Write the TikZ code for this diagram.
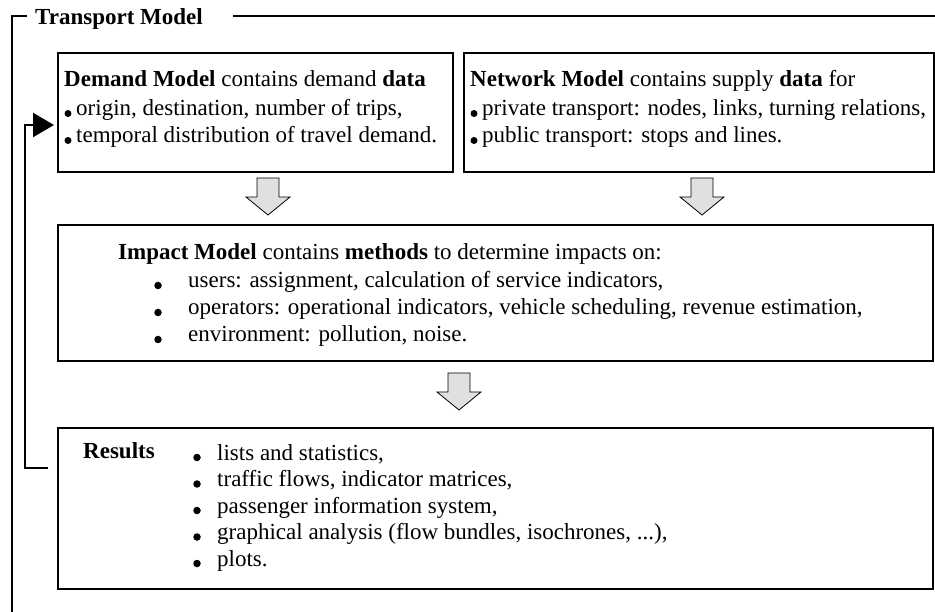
\documentclass[tikz,border=0pt]{standalone}
\usepackage{fontspec}
\setmainfont{Liberation Serif}
\usetikzlibrary{arrows.meta}
\tikzset{
  box/.style={draw, line width=1.8pt, inner sep=0pt, anchor=north west},
  txt/.style={anchor=base west, inner sep=0pt, font=\fontsize{23}{27}\selectfont},
  bul/.style={circle, fill, draw=none, inner sep=0pt, minimum size=7pt},
  bigbul/.style={circle, fill, draw=none, inner sep=0pt, minimum size=7.5pt},
  blockarrow/.style={fill=black!12, draw=black, line width=0.8pt, line join=miter},
  frame/.style={line width=2.2pt, line join=miter},
  fbline/.style={line width=2.2pt, line join=miter, -{Triangle[length=21pt,width=24pt]}, shorten >=3pt},
}
\newcommand{\mkblockarrow}[1]{%
  \draw[blockarrow] (#1) ++(-11,0) -- ++(22,0) -- ++(0,19) -- ++(11,0) -- ++(-22,18) -- ++(-22,-18) -- ++(11,0) -- cycle;}
\begin{document}
\begin{tikzpicture}[x=1pt,y=-1pt]
\useasboundingbox (0,0) rectangle (935,612);

% outer frame
\node[txt, font=\fontsize{23}{27}\selectfont\bfseries] (title) at (35,25) {Transport Model};
\coordinate (frTL) at (12,16);
\coordinate (frBL) at (12,614);
\draw[frame] ([xshift=-8pt]title.west |- frTL) -- (frTL) -- (frBL);
\draw[frame] ([xshift=30pt]title.east |- frTL) -- (937,16);

% boxes
\node[box, minimum width=395pt, minimum height=119pt] (dem) at (57,52) {};
\node[box, minimum width=470pt, minimum height=119pt] (net) at (463,52) {};
\node[box, minimum width=875pt, minimum height=136pt] (imp) at (57,224) {};
\node[box, minimum width=875pt, minimum height=161pt] (res) at (57,427) {};

% demand model text
\node[txt] (dt) at (64,87) {\textbf{Demand Model} contains demand \textbf{data}};
\node[bul] (db1) at (68,113.5) {};
\node[txt] (d1) at (76,116) {origin, destination, number of trips,};
\node[bul] (db2) at (68,140.5) {};
\node[txt] (d2) at (76,143) {temporal distribution of travel demand.};

% network model text
\node[txt] (nt) at (470,87) {\textbf{Network Model} contains supply \textbf{data} for};
\node[bul] (nb1) at (474,113.5) {};
\node[txt] (n1) at (482,116) {private transport: nodes, links, turning relations,};
\node[bul] (nb2) at (474,140.5) {};
\node[txt] (n2) at (482,143) {public transport: stops and lines.};

% impact model text
\node[txt] (it) at (118,260) {\textbf{Impact Model} contains \textbf{methods} to determine impacts on:};
\node[bigbul] (ib1) at (158,285.5) {};
\node[txt] (i1) at (188,288) {users: assignment, calculation of service indicators,};
\node[bigbul] (ib2) at (158,312.5) {};
\node[txt] (i2) at (188,315) {operators: operational indicators, vehicle scheduling, revenue estimation,};
\node[bigbul] (ib3) at (158,339.5) {};
\node[txt] (i3) at (188,342) {environment: pollution, noise.};

% results text
\node[txt] (rt) at (83,458) {\textbf{Results}};
\node[bigbul] (rb1) at (197,457.5) {};
\node[txt] (r1) at (217,460) {lists and statistics,};
\node[bigbul] (rb2) at (197,484) {};
\node[txt] (r2) at (217,486.5) {traffic flows, indicator matrices,};
\node[bigbul] (rb3) at (197,510.5) {};
\node[txt] (r3) at (217,513) {passenger information system,};
\node[bigbul] (rb4) at (197,537) {};
\node[txt] (r4) at (217,539.5) {graphical analysis (flow bundles, isochrones, ...),};
\node[bigbul] (rb5) at (197,563.5) {};
\node[txt] (r5) at (217,566) {plots.};

% block arrows
\coordinate (a1) at (268,178);
\coordinate (a2) at (702,178);
\coordinate (a3) at (459,373);
\mkblockarrow{a1}
\mkblockarrow{a2}
\mkblockarrow{a3}

% feedback connector
\coordinate (fbstart) at (48,468);
\coordinate (fbtop) at (25,125);
\draw[fbline] (fbstart) -- (fbstart -| fbtop) -- (fbtop) -- (fbtop -| dem.west);
\end{tikzpicture}
\end{document}
